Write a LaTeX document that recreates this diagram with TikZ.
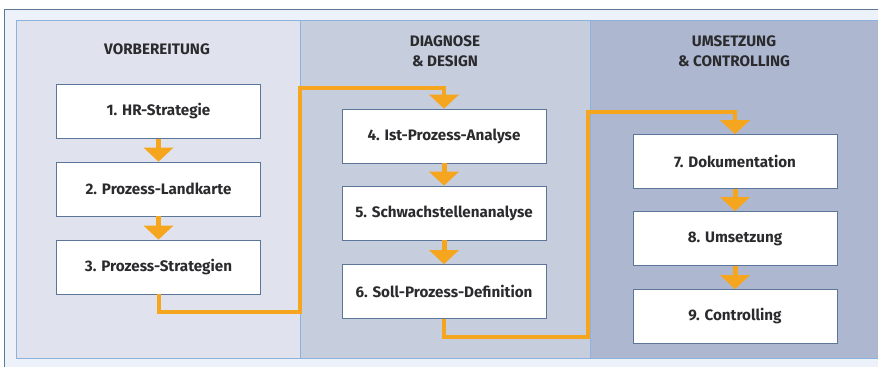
\documentclass[tikz,border=0pt]{standalone}
\usepackage{fontspec}
\setmainfont{Fira Sans}
\definecolor{framebg}{HTML}{EDF2FA}
\definecolor{frameline}{HTML}{5F7896}
\definecolor{panelA}{HTML}{E0E3EE}
\definecolor{panelB}{HTML}{C6CDDD}
\definecolor{panelC}{HTML}{ADB8D0}
\definecolor{panelline}{HTML}{8DB2DC}
\definecolor{boxline}{HTML}{5B7699}
\definecolor{flow}{HTML}{F6A51E}
\definecolor{ink}{HTML}{2B2B2E}
\usetikzlibrary{calc}
\tikzset{
  panel/.style={draw=panelline, line width=0.8pt},
  stepbox/.style={draw=boxline, fill=white, line width=0.8pt, minimum width=204pt, minimum height=54pt,
    inner sep=0pt, font=\fontsize{15.2}{18}\selectfont\bfseries, text=ink},
  heading/.style={font=\fontsize{15.2}{20}\selectfont\bfseries, text=ink, align=center},
  flowline/.style={draw=flow, line width=4pt},
}
% downward flow tip whose point touches (#2)
\newcommand{\downtip}[2]{%
  \fill[flow] ($(#2)+(-15,-14)$) -- ($(#2)+(15,-14)$) -- (#2) -- cycle;}
\begin{document}
\begin{tikzpicture}[x=1pt,y=-1pt]
\useasboundingbox (0,0) rectangle (878,367);
\fill[white] (0,0) rectangle (878,367);
% outer frame
\fill[framebg] (4,9) rectangle (878,367);
\draw[frameline, line width=1pt] (4,367) -- (4,9) -- (878,9);
% phase panels
\filldraw[panel, fill=panelA] (16,20) rectangle (300,358);
\filldraw[panel, fill=panelB] (300,20) rectangle (590,358);
\filldraw[panel, fill=panelC] (590,20) rectangle (880,358);
% headings
\node[heading] (h1) at (157,49) {VORBEREITUNG};
\node[heading] (h2) at (445,51) {DIAGNOSE\\\& DESIGN};
\node[heading] (h3) at (734,51) {UMSETZUNG\\\& CONTROLLING};
% steps
\node[stepbox] (s1) at (158.5,111.5) {1. HR-Strategie};
\node[stepbox] (s2) at (158.5,189)   {2. Prozess-Landkarte};
\node[stepbox] (s3) at (158.5,267)   {3. Prozess-Strategien};
\node[stepbox] (s4) at (444,136)     {4. Ist-Prozess-Analyse};
\node[stepbox] (s5) at (444,213)     {5. Schwachstellenanalyse};
\node[stepbox] (s6) at (444,291.5)   {6. Soll-Prozess-Definition};
\node[stepbox] (s7) at (735,161.5)   {7. Dokumentation};
\node[stepbox] (s8) at (735,238.5)   {8. Umsetzung};
\node[stepbox] (s9) at (735,316.5)   {9. Controlling};
% arrows inside a column
\foreach \a/\b in {s1/s2,s2/s3,s4/s5,s5/s6,s7/s8,s8/s9}{
  \draw[flow, line width=5pt] (\a.south) -- ($(\b.north)+(0,-12)$);
  \downtip{\a.south}{\b.north}
}
% connectors between phases
\draw[flowline] (s3.south) -- ++(0,18) -| (300,88) -| ($(s4.north)+(0,-12)$);
\downtip{s3.south}{s4.north}
\draw[flowline] (s6.south) -- ++(0,18) -| (588,112) -| ($(s7.north)+(0,-12)$);
\downtip{s6.south}{s7.north}
\end{tikzpicture}
\end{document}
